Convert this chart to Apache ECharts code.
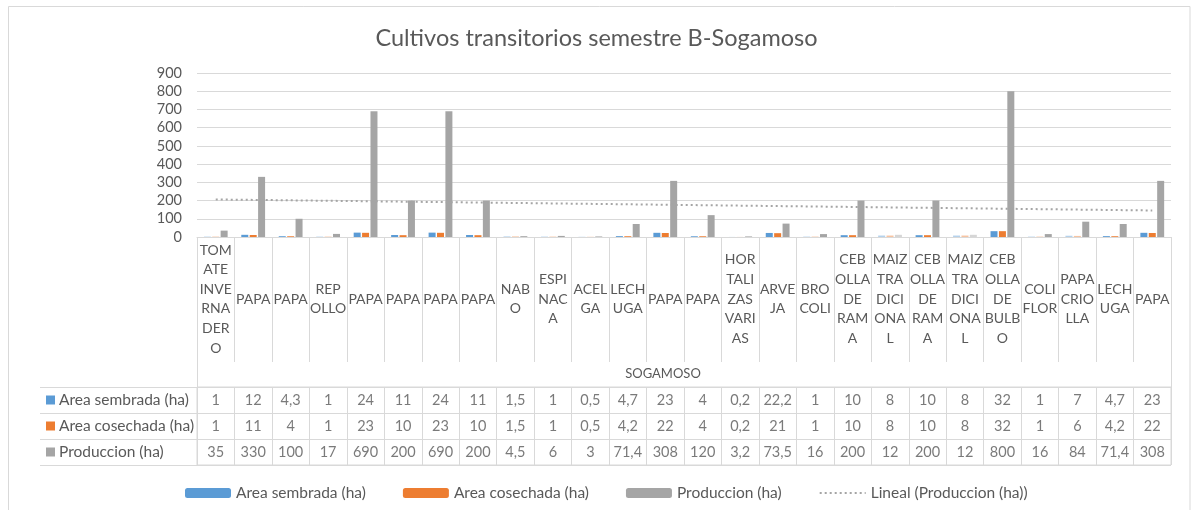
<!DOCTYPE html>
<html>
<head>
<meta charset="utf-8">
<script src="https://cdn.jsdelivr.net/npm/echarts@6/dist/echarts.min.js"></script>
<style>
html,body{margin:0;padding:0;background:#fff;}
#chart{width:1193px;height:510px;}
</style>
</head>
<body>
<div id="chart"></div>
<script>
// ---- data ----
const title = 'Cultivos transitorios semestre B-Sogamoso';
const groupLabel = 'SOGAMOSO';
const categories = [
  'TOM\nATE\nINVE\nRNA\nDER\nO', 'PAPA', 'PAPA', 'REP\nOLLO', 'PAPA', 'PAPA', 'PAPA', 'PAPA',
  'NAB\nO', 'ESPI\nNAC\nA', 'ACEL\nGA', 'LECH\nUGA', 'PAPA', 'PAPA', 'HOR\nTALI\nZAS\nVARI\nAS',
  'ARVE\nJA', 'BRO\nCOLI', 'CEB\nOLLA\nDE\nRAM\nA', 'MAIZ\nTRA\nDICI\nONA\nL', 'CEB\nOLLA\nDE\nRAM\nA',
  'MAIZ\nTRA\nDICI\nONA\nL', 'CEB\nOLLA\nDE\nBULB\nO', 'COLI\nFLOR', 'PAPA\nCRIO\nLLA', 'LECH\nUGA', 'PAPA'
];
const seriesNames = ['Area sembrada (ha)', 'Area cosechada (ha)', 'Produccion (ha)'];
const trendName = 'Lineal (Produccion (ha))';
const sembrada = [1, 12, 4.3, 1, 24, 11, 24, 11, 1.5, 1, 0.5, 4.7, 23, 4, 0.2, 22.2, 1, 10, 8, 10, 8, 32, 1, 7, 4.7, 23];
const cosechada = [1, 11, 4, 1, 23, 10, 23, 10, 1.5, 1, 0.5, 4.2, 22, 4, 0.2, 21, 1, 10, 8, 10, 8, 32, 1, 6, 4.2, 22];
const produccion = [35, 330, 100, 17, 690, 200, 690, 200, 4.5, 6, 3, 71.4, 308, 120, 3.2, 73.5, 16, 200, 12, 200, 12, 800, 16, 84, 71.4, 308];
const yTicks = { min: 0, max: 900, interval: 100 };

// ---- styling ----
const colors = ['#5b9bd5', '#ed7d31', '#a5a5a5'];
const textColor = '#595959';
const lineColor = '#d9d9d9';
const FONT = 'Lato';
const fadedAll = [18, 20];   // highlighted (lighter) points in the original
const fadedArea = [23];

const values = [sembrada, cosechada, produccion];

// linear trendline (least squares, as Excel "Lineal")
const n = produccion.length;
const xm = (n - 1) / 2;
const ym = produccion.reduce((a, b) => a + b, 0) / n;
let sxy = 0, sxx = 0;
produccion.forEach((y, i) => { sxy += (i - xm) * (y - ym); sxx += (i - xm) * (i - xm); });
const slope = sxy / sxx;
const intercept = ym - slope * xm;
const trend = produccion.map((_, i) => +(intercept + slope * i).toFixed(3));

const fmt = v => String(v).replace('.', ',');

function barData(si) {
  return values[si].map((v, i) => {
    const faded = fadedAll.includes(i) || (si < 2 && fadedArea.includes(i));
    return faded ? { value: v, itemStyle: { opacity: 0.45 } } : v;
  });
}

const barSeries = seriesNames.map((name, si) => ({
  name: name,
  type: 'bar',
  xAxisIndex: 0,
  yAxisIndex: 0,
  barWidth: 7,
  barGap: '20%',
  itemStyle: { color: colors[si] },
  data: barData(si),
  silent: true
}));

const tableSeries = seriesNames.map((name, si) => ({
  name: 'tabla-' + si,
  type: 'scatter',
  xAxisIndex: 2,
  yAxisIndex: 1,
  symbolSize: 1,
  itemStyle: { color: 'rgba(0,0,0,0)' },
  silent: true,
  label: {
    show: true,
    position: 'inside',
    fontFamily: FONT,
    fontSize: 14.5,
    color: textColor,
    formatter: p => fmt(p.value[2])
  },
  data: values[si].map((v, i) => [i, si, v])
}));

const rich = { t: { fontFamily: FONT, fontSize: 15.5, color: textColor } };
seriesNames.forEach((_, i) => { rich['s' + i] = { width: 9, height: 9, backgroundColor: colors[i] }; });

const option = {
  animation: false,
  backgroundColor: '#fff',
  textStyle: { fontFamily: FONT },
  title: {
    text: title,
    left: 'center',
    top: 21,
    textStyle: { fontFamily: FONT, fontSize: 23.5, fontWeight: 'normal', color: textColor }
  },
  legend: {
    data: [
      ...seriesNames,
      { name: trendName, itemStyle: { opacity: 0 } }
    ],
    left: 180,
    top: 480,
    itemWidth: 46,
    itemHeight: 10,
    itemGap: 37,
    textStyle: { fontFamily: FONT, fontSize: 15.5, color: textColor }
  },
  graphic: [{
    type: 'rect',
    shape: { x: 8.5, y: 6.5, width: 1181.5, height: 506 },
    style: { fill: 'none', stroke: lineColor, lineWidth: 1 },
    silent: true,
    z: -1
  }],
  grid: [
    { left: 197, top: 73, width: 974, height: 164 },
    { left: 197, top: 387, width: 974, height: 78, show: true, borderColor: lineColor, borderWidth: 1 }
  ],
  xAxis: [
    {
      gridIndex: 0,
      type: 'category',
      data: categories,
      axisLine: { lineStyle: { color: lineColor } },
      axisTick: { show: true, interval: 0, length: 125, lineStyle: { color: lineColor } },
      axisLabel: {
        interval: 0, margin: 62, verticalAlign: 'middle', lineHeight: 19.6,
        fontFamily: FONT, fontSize: 14, color: textColor
      }
    },
    {
      gridIndex: 0,
      type: 'category',
      position: 'bottom',
      offset: 125,
      data: [groupLabel],
      axisLine: { show: false },
      axisTick: { show: true, length: 25, lineStyle: { color: lineColor } },
      axisLabel: {
        margin: 12, verticalAlign: 'middle', padding: [0, 42, 0, 0],
        fontFamily: FONT, fontSize: 13, color: textColor
      }
    },
    {
      gridIndex: 1,
      type: 'category',
      data: categories.map((_, i) => i),
      axisLine: { show: false },
      axisTick: { show: false },
      axisLabel: { show: false },
      splitLine: { show: true, interval: 0, lineStyle: { color: lineColor } }
    }
  ],
  yAxis: [
    {
      gridIndex: 0,
      type: 'value',
      min: yTicks.min, max: yTicks.max, interval: yTicks.interval,
      axisLine: { show: false },
      axisTick: { show: false },
      axisLabel: { margin: 15, fontFamily: FONT, fontSize: 14.5, color: textColor },
      splitLine: { lineStyle: { color: lineColor } }
    },
    {
      gridIndex: 1,
      type: 'category',
      inverse: true,
      data: seriesNames,
      axisLine: { show: true, lineStyle: { color: lineColor } },
      axisTick: { show: true, length: 157, lineStyle: { color: lineColor } },
      splitLine: { show: true, interval: 0, lineStyle: { color: lineColor } },
      axisLabel: {
        margin: 151, align: 'left',
        formatter: (v, i) => `{s${i}|}{t| ${v}}`,
        rich: rich
      }
    },
    {
      gridIndex: 1,
      type: 'category',
      inverse: true,
      offset: 157,
      data: seriesNames,
      axisLine: { show: true, lineStyle: { color: lineColor } },
      axisTick: { show: false },
      axisLabel: { show: false }
    }
  ],
  series: [
    ...barSeries,
    {
      name: trendName,
      type: 'line',
      xAxisIndex: 0,
      yAxisIndex: 0,
      data: trend,
      symbol: 'none',
      silent: true,
      itemStyle: { color: '#a5a5a5' },
      lineStyle: { color: '#a5a5a5', width: 2, type: [2, 3] },
      z: 3
    },
    ...tableSeries
  ]
};

const chart = echarts.init(document.getElementById('chart'), null, { renderer: 'canvas' });
chart.setOption(option);
</script>
</body>
</html>
